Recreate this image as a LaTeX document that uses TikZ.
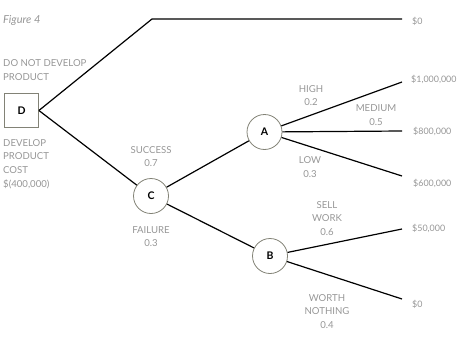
\documentclass[tikz,border=0pt]{standalone}
\usepackage{fontspec}
\setmainfont{Lato}
\definecolor{lblgray}{RGB}{150,150,150}
\definecolor{edgegray}{RGB}{130,130,118}
\begin{document}
\begin{tikzpicture}[x=1pt,y=-1pt,
  lbl/.style={text=lblgray, font=\fontsize{9.6}{13.6}\selectfont, align=center, inner sep=0pt},
  lbll/.style={lbl, align=left, anchor=west},
  val/.style={text=lblgray, font=\fontsize{8.9}{13.5}\selectfont, inner sep=0pt, anchor=west},
  chance/.style={circle, draw=edgegray, line width=0.8pt, minimum size=35pt, inner sep=0pt, fill=white, font=\fontsize{10.5}{12}\selectfont\bfseries},
  decision/.style={rectangle, draw=edgegray, line width=0.8pt, minimum size=34pt, inner sep=0pt, fill=white, font=\fontsize{10.5}{12}\selectfont\bfseries},
  br/.style={line width=1.2pt, black}]
\useasboundingbox (0,0) rectangle (462,345);
\node[text=lblgray, font=\fontsize{11}{13}\selectfont\itshape, anchor=west, inner sep=0pt] (fig) at (3,20) {Figure 4};
% nodes
\node[decision] (D) at (21.5,110.5) {D};
\node[chance] (C) at (151,196) {C};
\node[chance] (A) at (264.5,132) {A};
\node[chance] (B) at (270,256) {B};
\coordinate (k1) at (152,19);
\coordinate (e0) at (402,19);
\coordinate (e1) at (402,82);
\coordinate (e2) at (402,131);
\coordinate (e3) at (402,176);
\coordinate (e4) at (402,229);
\coordinate (e5) at (402,299);
% branches
\draw[br] (D.east) -- (k1) -- (e0);
\draw[br] (D.east) -- (C);
\draw[br] (C) -- (A);
\draw[br] (C) -- (B);
\draw[br] (A) -- (e1);
\draw[br] (A) -- (e2);
\draw[br] (A) -- (e3);
\draw[br] (B) -- (e4);
\draw[br] (B) -- (e5);
% labels
\node[lbll] (l1) at (3,70) {DO NOT DEVELOP\\PRODUCT};
\node[lbll] (l2) at (3,164) {DEVELOP\\PRODUCT\\COST\\\$(400,000)};
\node[lbl] (l3) at (151,156.5) {SUCCESS\\0.7};
\node[lbl] (l4) at (151,236.5) {FAILURE\\0.3};
\node[lbl] (l5) at (311,95.5) {HIGH\\0.2};
\node[lbl] (l6) at (376,115) {MEDIUM\\0.5};
\node[lbl] (l7) at (310,167) {LOW\\0.3};
\node[lbl] (l8) at (327,218.5) {SELL\\WORK\\0.6};
\node[lbl] (l9) at (327,311.5) {WORTH\\NOTHING\\0.4};
% values
\node[val] (v0) at (412,21) {\$0};
\node[val] (v1) at (411,79) {\$1,000,000};
\node[val] (v2) at (413,131) {\$800,000};
\node[val] (v3) at (413,183) {\$600,000};
\node[val] (v4) at (412,228) {\$50,000};
\node[val] (v5) at (412,304) {\$0};
\end{tikzpicture}
\end{document}
